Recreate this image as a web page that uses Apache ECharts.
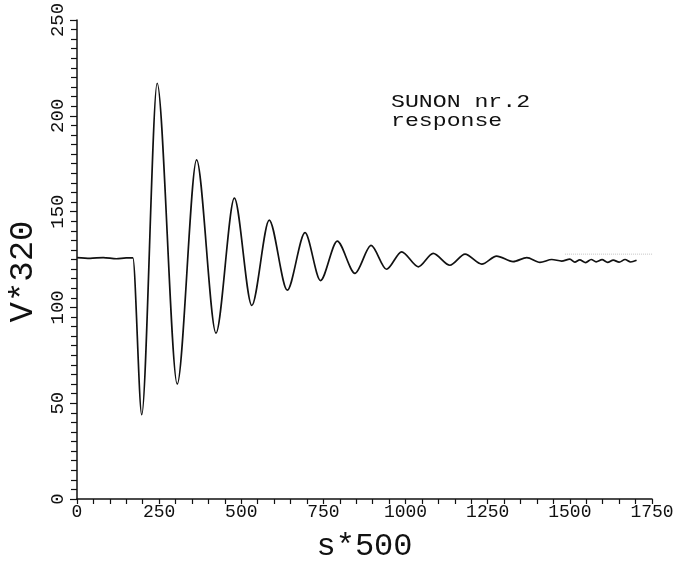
<!DOCTYPE html>
<html>
<head>
<meta charset="utf-8">
<script src="https://cdn.jsdelivr.net/npm/echarts@6/dist/echarts.min.js"></script>
<style>
    html, body { margin: 0; padding: 0; background: #fff; }
    #chart { width: 699px; height: 561px; }
</style>
</head>
<body>
<div id="chart"></div>
<script>
// response trace (extrema + a few shape points)
const timeS = [0, 40, 80, 120, 150, 170, 197, 244, 305, 364, 423, 479, 532, 585, 640,
    694, 741, 792, 846, 895, 942, 988, 1039, 1084, 1135, 1181, 1232, 1277, 1327, 1369,
    1409, 1445, 1475, 1500, 1515, 1530, 1548, 1565, 1580, 1598, 1615, 1632, 1650, 1668,
    1685, 1703]
const voltage = [126.0, 125.6, 126.0, 125.4, 125.8, 125.8, 44, 217, 60, 177, 86.6, 157, 101, 145.6, 109,
    139, 114, 134.6, 117.8, 132.4, 119.9, 129, 121.2, 128.2, 122, 127.8, 122.6, 126.8, 123.9, 126,
    123.5, 125.0, 124.2, 125.2, 123.6, 124.8, 123.4, 125.0, 123.8, 124.9, 123.5, 124.7, 123.6, 125.0,
    123.7, 124.6]

// faint scan line to the right of the trace
const scanX = [1485, 1893]
const scanY = [127.8, 127.8]

const xTicks = [0, 250, 500, 750, 1000, 1250, 1500, 1750]
const yTicks = [0, 50, 100, 150, 200, 250]

const chart = echarts.init(document.getElementById('chart'))

const mono = 'Liberation Mono'

const option = {
    backgroundColor: '#fff',
    animation: false,
    grid: {
        left: 77,
        right: 47,
        top: 20,
        bottom: 62,
        outerBoundsMode: 'none'
    },
    xAxis: {
        type: 'value',
        min: xTicks[0],
        max: xTicks[xTicks.length - 1],
        interval: 250,
        name: 's*500',
        nameLocation: 'middle',
        nameGap: 32,
        nameTextStyle: { fontFamily: mono, fontSize: 32, color: '#111' },
        axisLine: { lineStyle: { color: '#111', width: 1.5 } },
        axisTick: { show: true, length: 5, lineStyle: { color: '#111', width: 1.2 } },
        minorTick: { show: true, splitNumber: 5, length: 5, lineStyle: { color: '#111', width: 1.2 } },
        axisLabel: { fontFamily: mono, fontSize: 18, color: '#111', margin: 4, formatter: v => String(v) },
        splitLine: { show: false }
    },
    yAxis: {
        type: 'value',
        min: yTicks[0],
        max: yTicks[yTicks.length - 1],
        interval: 50,
        name: 'V*320',
        nameLocation: 'middle',
        nameRotate: 90,
        nameGap: 36,
        nameTextStyle: { fontFamily: mono, fontSize: 34, color: '#111', padding: [0, 24, 0, 0] },
        axisLine: { show: true, lineStyle: { color: '#111', width: 1.5 } },
        axisTick: { show: true, length: 7, lineStyle: { color: '#111', width: 1.2 } },
        minorTick: { show: true, splitNumber: 10, length: 6, lineStyle: { color: '#111', width: 1.2 } },
        axisLabel: { fontFamily: mono, fontSize: 19, color: '#111', rotate: 90, margin: 10 },
        splitLine: { show: false }
    },
    graphic: [
        {
            type: 'text',
            x: 391, y: 92,
            scaleX: 1.22,
            style: { text: 'SUNON nr.2', font: '19px "Liberation Mono"', fill: '#111' }
        },
        {
            type: 'text',
            x: 391, y: 111,
            scaleX: 1.22,
            style: { text: 'response', font: '19px "Liberation Mono"', fill: '#111' }
        }
    ],
    series: [
        {
            type: 'line',
            data: timeS.map((t, i) => [t, voltage[i]]),
            showSymbol: false,
            smooth: 0.3,
            smoothMonotone: 'x',
            lineStyle: { color: '#111', width: 1.7 }
        },
        {
            type: 'line',
            data: scanX.map((t, i) => [t, scanY[i]]),
            showSymbol: false,
            clip: false,
            lineStyle: { color: '#c4c4c4', width: 1, type: 'dotted' }
        }
    ]
}

chart.setOption(option)
</script>
</body>
</html>
